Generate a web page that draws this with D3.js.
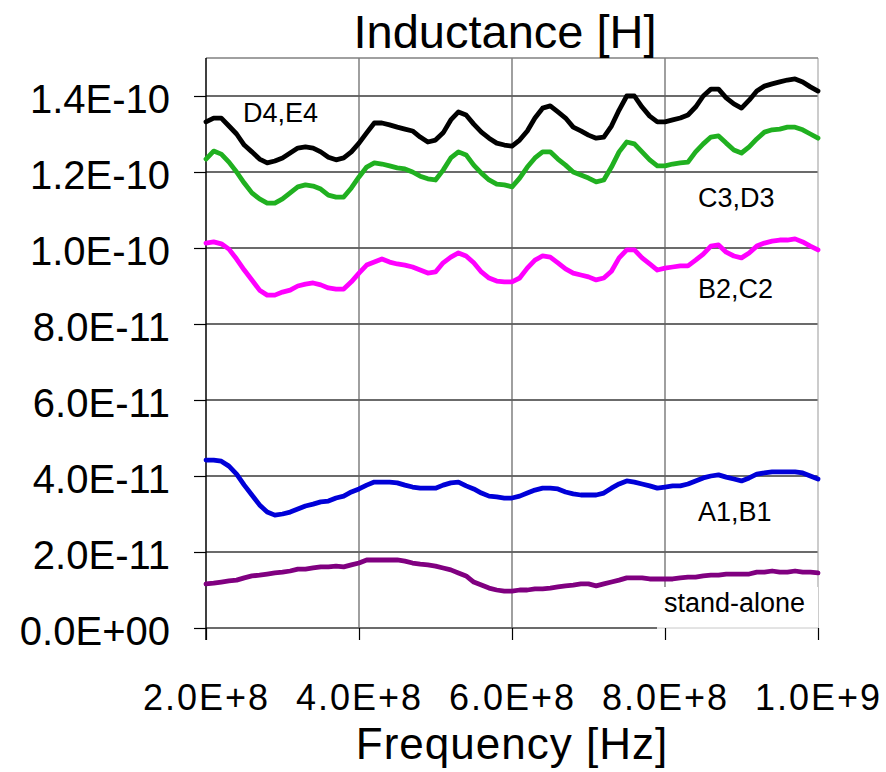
<!DOCTYPE html>
<html>
<head>
<meta charset="utf-8">
<script src="https://cdn.jsdelivr.net/npm/d3@7/dist/d3.min.js"></script>
<style>
  body { margin: 0; background: #fff; }
  text { font-family: "Liberation Sans", Arial, sans-serif; fill: #000; }
</style>
</head>
<body>
<svg id="chart" width="886" height="772"></svg>
<script>
'use strict';

// sample frequencies, MHz
var freqMHz = [
  200, 210, 220, 230, 240, 250, 260, 270, 280, 290,
  300, 310, 320, 330, 340, 350, 360, 370, 380, 390,
  400, 410, 420, 430, 440, 450, 460, 470, 480, 490,
  500, 510, 520, 530, 540, 550, 560, 570, 580, 590,
  600, 610, 620, 630, 640, 650, 660, 670, 680, 690,
  700, 710, 720, 730, 740, 750, 760, 770, 780, 790,
  800, 810, 820, 830, 840, 850, 860, 870, 880, 890,
  900, 910, 920, 930, 940, 950, 960, 970, 980, 990,
  1000
];

// inductance, in units of 1E-11 H
var d4e4 = [
  13.32, 13.42, 13.42, 13.21, 13.00, 12.71, 12.53, 12.34, 12.24, 12.29,
  12.37, 12.50, 12.63, 12.66, 12.63, 12.53, 12.39, 12.32, 12.37, 12.53,
  12.76, 13.03, 13.29, 13.29, 13.24, 13.18, 13.13, 13.08, 12.92, 12.79,
  12.84, 13.03, 13.37, 13.58, 13.50, 13.26, 13.05, 12.89, 12.76, 12.71,
  12.68, 12.84, 13.08, 13.42, 13.68, 13.74, 13.58, 13.42, 13.18, 13.08,
  12.97, 12.89, 12.92, 13.21, 13.63, 14.00, 14.00, 13.71, 13.47, 13.32,
  13.32, 13.37, 13.42, 13.50, 13.71, 14.00, 14.18, 14.18, 13.95, 13.79,
  13.68, 13.89, 14.13, 14.26, 14.32, 14.37, 14.42, 14.45, 14.37, 14.24,
  14.13
];
var c3d3 = [
  12.34, 12.55, 12.47, 12.26, 12.00, 11.71, 11.45, 11.29, 11.18, 11.18,
  11.29, 11.45, 11.61, 11.66, 11.63, 11.55, 11.39, 11.34, 11.34, 11.58,
  11.87, 12.13, 12.24, 12.21, 12.16, 12.11, 12.08, 12.00, 11.89, 11.82,
  11.79, 12.05, 12.37, 12.53, 12.45, 12.18, 11.97, 11.79, 11.68, 11.66,
  11.61, 11.84, 12.13, 12.37, 12.53, 12.53, 12.34, 12.18, 12.00, 11.92,
  11.84, 11.74, 11.79, 12.13, 12.53, 12.79, 12.74, 12.53, 12.32, 12.16,
  12.16, 12.21, 12.24, 12.26, 12.53, 12.74, 12.92, 12.95, 12.76, 12.58,
  12.50, 12.66, 12.87, 13.05, 13.11, 13.13, 13.18, 13.18, 13.11, 13.00,
  12.89
];
var b2c2 = [
  10.13, 10.16, 10.11, 9.97, 9.71, 9.42, 9.16, 8.89, 8.76, 8.76,
  8.84, 8.89, 9.00, 9.05, 9.08, 9.03, 8.95, 8.92, 8.92, 9.11,
  9.34, 9.55, 9.63, 9.71, 9.63, 9.58, 9.55, 9.50, 9.42, 9.34,
  9.37, 9.61, 9.76, 9.87, 9.79, 9.61, 9.37, 9.21, 9.13, 9.11,
  9.11, 9.21, 9.47, 9.68, 9.79, 9.76, 9.61, 9.45, 9.34, 9.29,
  9.24, 9.16, 9.21, 9.39, 9.74, 9.95, 9.95, 9.74, 9.58, 9.42,
  9.47, 9.50, 9.53, 9.53, 9.68, 9.84, 10.05, 10.08, 9.89, 9.79,
  9.74, 9.87, 10.05, 10.13, 10.18, 10.21, 10.21, 10.24, 10.16, 10.05,
  9.95
];
var a1b1 = [
  4.42, 4.42, 4.39, 4.26, 4.05, 3.76, 3.50, 3.24, 3.05, 2.97,
  3.00, 3.05, 3.13, 3.21, 3.26, 3.32, 3.34, 3.42, 3.47, 3.58,
  3.66, 3.76, 3.84, 3.84, 3.84, 3.82, 3.76, 3.71, 3.68, 3.68,
  3.68, 3.76, 3.82, 3.84, 3.74, 3.66, 3.55, 3.47, 3.45, 3.42,
  3.42, 3.47, 3.55, 3.63, 3.68, 3.68, 3.66, 3.58, 3.53, 3.50,
  3.50, 3.50, 3.55, 3.68, 3.79, 3.87, 3.84, 3.79, 3.74, 3.68,
  3.71, 3.74, 3.74, 3.79, 3.87, 3.95, 4.00, 4.03, 3.97, 3.92,
  3.87, 3.95, 4.05, 4.08, 4.11, 4.11, 4.11, 4.11, 4.08, 4.00,
  3.92
];
var standAlone = [
  1.16, 1.18, 1.21, 1.24, 1.26, 1.32, 1.37, 1.39, 1.42, 1.45,
  1.47, 1.50, 1.55, 1.55, 1.58, 1.61, 1.61, 1.63, 1.61, 1.66,
  1.71, 1.79, 1.79, 1.79, 1.79, 1.79, 1.76, 1.71, 1.68, 1.66,
  1.63, 1.58, 1.53, 1.45, 1.37, 1.21, 1.13, 1.05, 1.00, 0.97,
  0.97, 1.00, 1.00, 1.03, 1.03, 1.05, 1.08, 1.11, 1.13, 1.16,
  1.16, 1.11, 1.16, 1.21, 1.26, 1.32, 1.32, 1.32, 1.29, 1.29,
  1.29, 1.29, 1.32, 1.34, 1.34, 1.37, 1.39, 1.39, 1.42, 1.42,
  1.42, 1.42, 1.47, 1.47, 1.50, 1.47, 1.47, 1.50, 1.47, 1.47,
  1.45
];

var seriesNames = ['D4,E4', 'C3,D3', 'B2,C2', 'A1,B1', 'stand-alone'];
var seriesValues = [d4e4, c3d3, b2c2, a1b1, standAlone];
var seriesColors = ['#000000', '#20b020', '#ff00ff', '#0000d8', '#800080'];

var xTicks = [2e8, 4e8, 6e8, 8e8, 1e9];
var yTicks = [0, 2e-11, 4e-11, 6e-11, 8e-11, 1e-10, 1.2e-10, 1.4e-10];

var UNIT = 1e-11;

var margins = { top: 58, left: 206, right: 68, bottom: 144 };
var width = 886, height = 772;

var svg = d3.select('#chart');

var x = d3.scaleLinear().domain([2e8, 1e9]).range([margins.left, width - margins.right]);
var y = d3.scaleLinear().domain([0, 1.5e-10]).range([height - margins.bottom, margins.top]);

// scientific labels like Excel: 2.0E+8, 8.0E-11, 0.0E+00
function sciX(v) {
  return d3.format('.1e')(v).replace('e', 'E');
}
function sciY(v) {
  if (v === 0) return '0.0E+00';
  return d3.format('.1e')(v).replace(/e([+-])(\d)$/, 'e$10$2').replace('e', 'E');
}

// grid
svg.append('g')
  .selectAll('line')
  .data(yTicks)
  .join('line')
    .attr('x1', x.range()[0]).attr('x2', x.range()[1])
    .attr('y1', function(d) { return y(d); })
    .attr('y2', function(d) { return y(d); })
    .attr('stroke', '#3a3a3a')
    .attr('stroke-width', 1.5);

svg.append('g')
  .selectAll('line')
  .data(xTicks.slice(1))
  .join('line')
    .attr('x1', function(d) { return x(d); })
    .attr('x2', function(d) { return x(d); })
    .attr('y1', y(1.5e-10)).attr('y2', y(0))
    .attr('stroke', function(d, i) { return i === 3 ? '#aaaaaa' : '#606060'; })
    .attr('stroke-width', 1.2);

// top border of the plot
svg.append('line')
  .attr('x1', x.range()[0]).attr('x2', x.range()[1])
  .attr('y1', y(1.5e-10)).attr('y2', y(1.5e-10))
  .attr('stroke', '#808080')
  .attr('stroke-width', 1.5);

// white box behind the stand-alone label
svg.append('rect')
  .attr('x', 657).attr('y', 587)
  .attr('width', x(1e9) - 657).attr('height', 44)
  .attr('fill', '#fff');
svg.append('line')
  .attr('x1', 657).attr('x2', x(1e9))
  .attr('y1', y(0)).attr('y2', y(0))
  .attr('stroke', '#c8c8c8');

// axes
var yAxis = svg.append('g')
  .attr('transform', 'translate(' + margins.left + ',0)')
  .call(d3.axisLeft(y).tickValues(yTicks).tickSize(12).tickPadding(24).tickFormat(sciY));
yAxis.select('.domain').remove();
yAxis.attr('font-size', null).attr('font-family', null);
yAxis.selectAll('text').style('font-size', '40px').attr('dy', '0.42em');
yAxis.selectAll('line').attr('stroke', '#000').attr('stroke-width', 1.2);

var xAxis = svg.append('g')
  .attr('transform', 'translate(0,' + y(0) + ')')
  .call(d3.axisBottom(x).tickValues(xTicks).tickSize(12).tickFormat(sciX));
xAxis.select('.domain').remove();
xAxis.attr('font-size', null).attr('font-family', null);
xAxis.selectAll('text')
  .style('font-size', '36px')
  .style('letter-spacing', '2px')
  .attr('y', 82).attr('dy', 0);
xAxis.selectAll('line').attr('stroke', '#000').attr('stroke-width', 1.2);

svg.append('line')
  .attr('x1', margins.left).attr('x2', margins.left)
  .attr('y1', y(1.5e-10)).attr('y2', y(0) + 12)
  .attr('stroke', '#000')
  .attr('stroke-width', 1.5);

// series
var line = d3.line()
  .x(function(d) { return x(d[0]); })
  .y(function(d) { return y(d[1]); });

seriesValues.forEach(function(vals, i) {
  var pts = freqMHz.map(function(f, k) { return [f * 1e6, vals[k] * UNIT]; });
  svg.append('path')
    .datum(pts)
    .attr('fill', 'none')
    .attr('stroke', seriesColors[i])
    .attr('stroke-width', 4.8)
    .attr('stroke-linejoin', 'round')
    .attr('stroke-linecap', 'round')
    .attr('d', line);
});

// series labels
var labelPos = [[243, 122], [698, 207], [698, 298], [698, 521], [664, 612]];
svg.append('g')
  .selectAll('text')
  .data(seriesNames)
  .join('text')
    .attr('x', function(d, i) { return labelPos[i][0]; })
    .attr('y', function(d, i) { return labelPos[i][1]; })
    .style('font-size', '27px')
    .text(function(d) { return d; });

// titles
svg.append('text')
  .attr('x', 505).attr('y', 48)
  .attr('text-anchor', 'middle')
  .style('font-size', '47px')
  .text('Inductance [H]');

svg.append('text')
  .attr('x', 512).attr('y', 759)
  .attr('text-anchor', 'middle')
  .style('font-size', '44px')
  .style('letter-spacing', '1px')
  .text('Frequency [Hz]');
</script>
</body>
</html>
